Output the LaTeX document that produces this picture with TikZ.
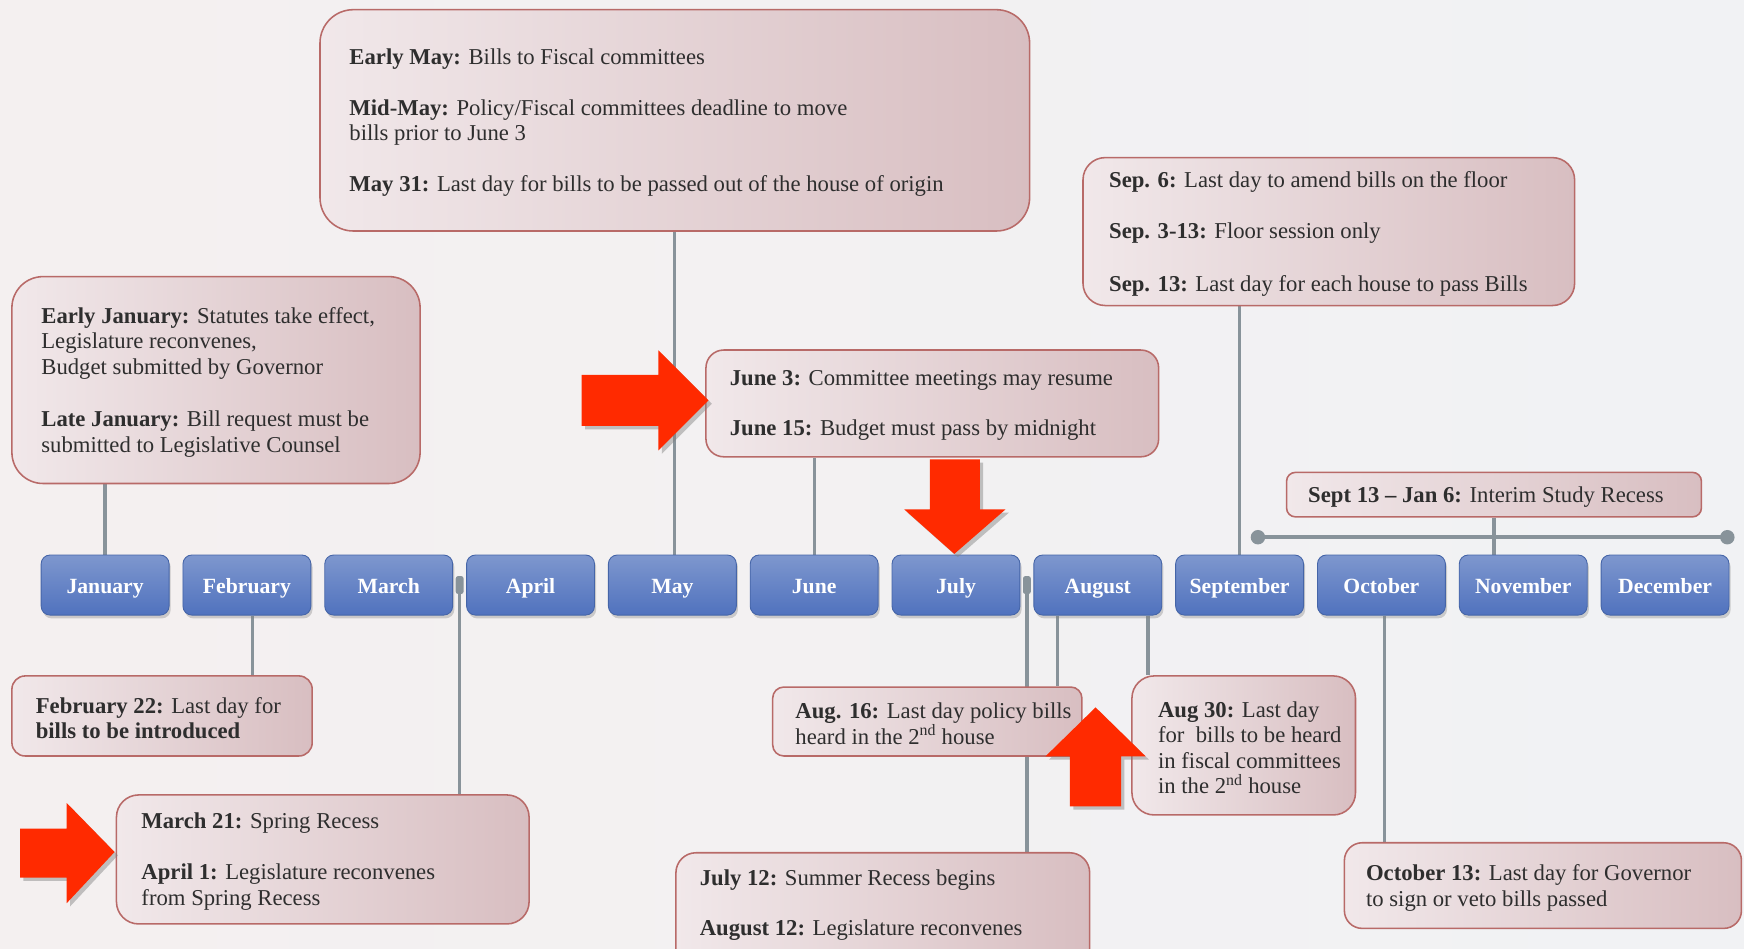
\documentclass[tikz,border=0pt]{standalone}
\usepackage{fontspec}
\setmainfont{Liberation Serif}
\usetikzlibrary{shadows,calc}
\definecolor{bgL}{HTML}{F4F0F0}
\definecolor{bgR}{HTML}{F1F2F4}
\definecolor{pinkL}{HTML}{F1E8EA}
\definecolor{pinkM}{HTML}{EADCDF}
\definecolor{pinkR}{HTML}{D8BEC1}
\definecolor{evBorder}{HTML}{B86A68}
\definecolor{evText}{HTML}{2E2E2E}
\definecolor{monthTop}{HTML}{7E97CE}
\definecolor{monthBot}{HTML}{5072BE}
\definecolor{monthBorder}{HTML}{4565A8}
\definecolor{linkGrey}{HTML}{88939A}
\definecolor{arrowRed}{HTML}{FF2A00}
\pgfdeclarelayer{back}
\pgfdeclarelayer{lines}
\pgfsetlayers{back,lines,main}
\begin{document}
\begin{tikzpicture}[x=1pt,y=-1pt,
  month/.style={draw=monthBorder, line width=0.8pt, rounded corners=8pt,
    top color=monthTop, bottom color=monthBot,
    minimum width=115pt, minimum height=54pt, inner sep=0pt, text=white,
    text height=18pt, text depth=2pt,
    font=\fontsize{19.5}{22}\selectfont\bfseries,
    drop shadow={shadow xshift=1.5pt, shadow yshift=-3pt, opacity=0.35}},
  evbox/.style={draw=evBorder, line width=1.4pt, left color=pinkL,
    middle color=pinkM, right color=pinkR, anchor=north west, inner sep=0pt},
  evtext/.style={anchor=west, align=left, inner sep=0pt, text=evText,
    yshift=-2pt, font=\fontsize{20.4}{23}\selectfont},
  link/.style={draw=linkGrey, line width=3pt},
  knob/.style={fill=linkGrey, rounded corners=2pt, minimum width=7pt,
    minimum height=16pt, inner sep=0pt},
  redarrow/.style={fill=arrowRed,
    drop shadow={shadow xshift=3pt, shadow yshift=-3pt, opacity=0.45}}
]
\useasboundingbox (0,0) rectangle (1568,853);
\begin{pgfonlayer}{back}
  \shade[left color=bgL, right color=bgR] (0,0) rectangle (1568,853);
\end{pgfonlayer}

% month boxes
\foreach \n/\t [count=\i from 0] in {jan/January, feb/February, mar/March,
  apr/April, may/May, june/June, jul/July, aug/August, sep/September,
  oct/October, nov/November, dec/December}
  {\node[month] (\n) at ({94.5+127.5*\i},526) {\t};}

% event boxes
\node[evbox, rounded corners=30pt, minimum width=638pt, minimum height=199pt] (mayev) at (287,8) {};
\node[evtext] (mayevt) at ($(mayev.west)+(27,0)$) {\textbf{Early May:} Bills to Fiscal committees\\[23pt]
\textbf{Mid-May:} Policy/Fiscal committees deadline to move\\ bills prior to June 3\\[23pt]
\textbf{May 31:} Last day for bills to be passed out of the house of origin};

\node[evbox, rounded corners=28pt, minimum width=367pt, minimum height=186pt] (janev) at (10,248) {};
\node[evtext] (janevt) at ($(janev.west)+(27,0)$) {\textbf{Early January:} Statutes take effect,\\ Legislature reconvenes,\\ Budget submitted by Governor\\[24pt]
\textbf{Late January:} Bill request must be\\ submitted to Legislative Counsel};

\node[evbox, rounded corners=16pt, minimum width=407pt, minimum height=96pt] (juneev) at (634,314) {};
\node[evtext] (juneevt) at ($(juneev.west)+(22,0)$) {\textbf{June 3:} Committee meetings may resume\\[22pt]
\textbf{June 15:} Budget must pass by midnight};

\node[evbox, rounded corners=20pt, minimum width=442pt, minimum height=133pt] (sepev) at (973,141) {};
\node[evtext] (sepevt) at ($(sepev.west)+(24,0)$) {\textbf{Sep. 6:} Last day to amend bills on the floor\\[23pt]
\textbf{Sep. 3-13:} Floor session only\\[25pt]
\textbf{Sep. 13:} Last day for each house to pass Bills};

\node[evbox, rounded corners=8pt, minimum width=373pt, minimum height=40pt] (interim) at (1156,424) {};
\node[evtext] (interimt) at ($(interim.west)+(20,0)$) {\textbf{Sept 13 – Jan 6:} Interim Study Recess};

\node[evbox, rounded corners=12pt, minimum width=270pt, minimum height=72pt] (feb22) at (10,607) {};
\node[evtext] (feb22t) at ($(feb22.west)+(22,0)$) {\textbf{February 22:} Last day for\\ \textbf{bills to be introduced}};

\node[evbox, rounded corners=20pt, minimum width=371pt, minimum height=116pt] (mar21) at (104,714) {};
\node[evtext] (mar21t) at ($(mar21.west)+(23,0)$) {\textbf{March 21:} Spring Recess\\[23pt]
\textbf{April 1:} Legislature reconvenes\\ from Spring Recess};

\node[evbox, rounded corners=10pt, minimum width=278pt, minimum height=62pt] (aug16) at (694,617) {};
\node[evtext] (aug16t) at ($(aug16.west)+(21,0)$) {\textbf{Aug. 16:} Last day policy bills\\ heard in the 2\textsuperscript{nd} house};

\node[evbox, rounded corners=20pt, minimum width=201pt, minimum height=125pt] (aug30) at (1017,607) {};
\node[evtext] (aug30t) at ($(aug30.west)+(24,0)$) {\textbf{Aug 30:} Last day\\ for\ \ bills to be heard\\ in fiscal committees\\ in the 2\textsuperscript{nd} house};

\node[evbox, rounded corners=16pt, minimum width=357pt, minimum height=77pt] (oct13) at (1208,757) {};
\node[evtext] (oct13t) at ($(oct13.west)+(20,0)$) {\textbf{October 13:} Last day for Governor\\ to sign or veto bills passed};

\node[evbox, rounded corners=18pt, minimum width=372pt, minimum height=130pt] (jul12) at (607,766) {};
\node[evtext] (jul12t) at (629,811.5) {\textbf{July 12:} Summer Recess begins\\[22pt]
\textbf{August 12:} Legislature reconvenes};

% connectors
\coordinate (febc) at ([xshift=5pt]feb.south);
\coordinate (maprk) at ($(mar.east)!0.5!(apr.west)$);
\coordinate (jaugk) at ($(jul.east)!0.5!(aug.west)$);
\coordinate (a16c) at ([xshift=-36pt]aug.south);
\coordinate (a30c) at ([xshift=45pt]aug.south);
\coordinate (octc) at ([xshift=2.5pt]oct.south);
\coordinate (barL) at (1131,483);
\coordinate (barR) at (1553,483);
\begin{pgfonlayer}{lines}
  \draw[link] (mayev.south) -- (mayev.south |- may.north);
  \draw[link] (jan.north) -- (jan.north |- janev.south);
  \draw[link] (june.north) -- (june.north |- juneev.south);
  \draw[link] (sep.north) -- (sep.north |- sepev.south);
  \draw[link] (interim.south) -- (interim.south |- nov.north);
  \draw[link] (febc) -- (febc |- feb22.north);
  \draw[link] (maprk) -- (maprk |- mar21.north);
  \draw[link] (jaugk) -- (jaugk |- jul12.north);
  \draw[link] (a16c) -- (a16c |- aug16.north);
  \draw[link] (a30c) -- (a30c |- aug30.north);
  \draw[link] (octc) -- (octc |- oct13.north);
  \draw[link, line width=4pt] (barL) -- (barR);
  \fill[linkGrey] (barL) circle (6.5pt) (barR) circle (6.5pt);
\end{pgfonlayer}
\node[knob] (knob1) at (maprk) {};
\node[knob] (knob2) at (jaugk) {};

% red arrows
\path[redarrow] (523,337) -- (592,337) -- (592,315) -- (637,360) -- (592,405) -- (592,383) -- (523,383) -- cycle;
\path[redarrow] (836,413) -- (881,413) -- (881,458) -- (904,458) -- (858,498) -- (813,458) -- (836,458) -- cycle;
\path[redarrow] (962,725) -- (1008,725) -- (1008,680) -- (1030,680) -- (985,636) -- (940,680) -- (962,680) -- cycle;
\path[redarrow] (18,745) -- (60,745) -- (60,722) -- (103,766) -- (60,812) -- (60,789) -- (18,789) -- cycle;
\end{tikzpicture}
\end{document}
